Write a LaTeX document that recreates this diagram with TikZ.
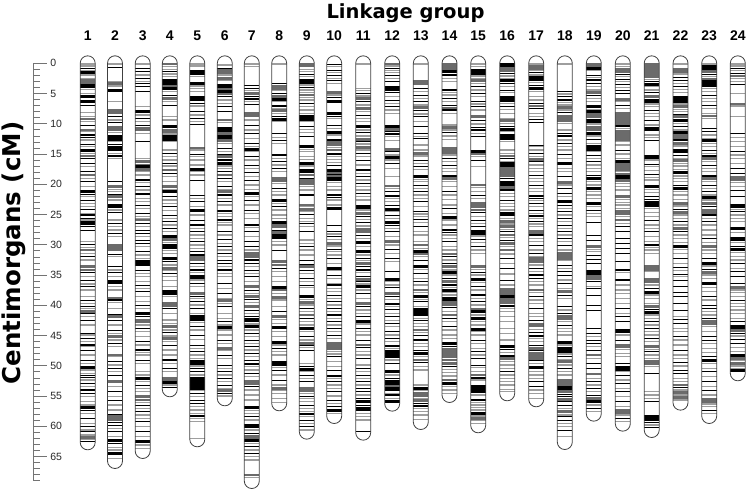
\documentclass[tikz,border=0pt]{standalone}
\usepackage{fontspec}
\setmainfont{Liberation Sans}
\newfontfamily\dejavu{DejaVu Sans}
\tikzset{
  bandk/.style={line width=0.9pt, black},
  bandK/.style={line width=2.6pt, black},
  bandg/.style={line width=1.2pt, black!38},
  bandG/.style={line width=2.8pt, black!58},
  chrout/.style={line width=0.8pt, black!75},
  axisline/.style={line width=0.8pt, black!55},
  ticklabel/.style={anchor=west, inner sep=0pt, text=black!85, font=\fontsize{10.5}{11}\selectfont},
  grouplabel/.style={anchor=base, inner sep=0pt, font=\fontsize{14}{15}\selectfont\bfseries},
}
\newcommand\drawchrom[3]{%
  \foreach \zz/\ty in {#3}{%
    \edef\bandcmd{\noexpand\draw[band\ty]}%
    \bandcmd (#1-7.5,50+\zz/3) -- (#1+7.5,50+\zz/3);
  }%
  \draw[chrout] (#1-7.5,63.3) arc[start angle=180,end angle=0,radius=7.5pt]
    -- (#1+7.5,50+#2/3) arc[start angle=0,end angle=-180,radius=7.5pt] -- cycle;
}
\begin{document}
\begin{tikzpicture}[x=1pt,y=-1pt]
\useasboundingbox (0,0) rectangle (749,490);
% titles
\node[anchor=base, inner sep=0pt, font=\dejavu\bfseries\fontsize{19.5}{20}\selectfont] (title) at (405.5,18.5) {Linkage group};
\node[rotate=90, inner sep=0pt, font=\dejavu\bfseries\fontsize{24.5}{25}\selectfont] (ylab) at (14,253) {Centimorgans (cM)};
% axis
\draw[axisline] (33,63.3) coordinate (axtop) -- (33,480.8) coordinate (axbot);
\foreach \i in {0,...,69}{\draw[axisline] (33,63.3+\i*6.05) -- ++(7,0);}
\foreach \i in {0,5,...,65}{\draw[axisline] (33,63.3+\i*6.05) -- ++(14,0) node[ticklabel, xshift=3pt] (tl\i) {\i};}
% group labels
\foreach \n/\x in {1/87.7,2/115,3/142.7,4/169.8,5/197.3,6/224.8,7/251.8,8/279.2,9/306.8,10/334.2,11/363.2,12/392.2,13/420.8,14/449.5,15/478.2,16/507.2,17/536.2,18/564.8,19/593.8,20/622.8,21/651.7,22/680.5,23/709.2,24/737.8}{\node[grouplabel] (g\n) at (\x,40) {\n};}
% chromosomes
\drawchrom{87.7}{1177}{42/g,48/g,55/k,62/g,68/K,75/g,85/g,92/G,98/G,104/k,110/K,118/g,130/g,140/K,155/K,165/k,188/g,200/g,207/G,215/g,225/k,240/G,245/g,255/K,263/k,270/g,282/k,290/g,302/K,310/g,318/G,325/k,340/k,350/g,365/k,375/G,385/g,395/k,410/g,425/K,432/k,440/g,450/k,460/g,470/g,478/k,490/g,495/K,505/k,510/g,515/k,520/K,530/k,540/k,575/g,582/k,592/g,600/G,610/g,620/k,630/g,645/k,650/G,660/G,668/k,680/g,690/k,702/g,710/k,720/g,740/g,750/k,760/g,768/k,775/g,785/G,790/k,800/g,810/k,825/g,850/k,855/g,865/k,875/g,885/K,890/g,900/k,915/g,930/k,940/g,952/K,960/g,970/g,975/k,983/k,990/g,1000/k,1010/g,1020/K,1030/k,1040/g,1055/g,1065/g,1073/K,1080/k,1090/g,1105/k,1120/g,1130/k,1140/g,1145/k,1155/g,1162/G,1168/g,1175/k}
\drawchrom{115}{1233}{42/g,52/k,95/g,100/G,108/g,122/K,155/g,180/G,188/G,200/k,210/g,218/k,232/G,240/G,248/g,260/K,268/K,275/g,283/k,293/K,300/K,310/g,318/K,325/g,395/k,410/G,418/g,425/g,435/K,440/G,450/g,465/K,470/K,480/g,487/k,510/g,520/k,530/g,540/g,550/k,560/g,585/G,590/G,595/G,600/G,612/k,620/g,650/k,660/g,668/k,680/g,695/K,700/k,710/g,720/g,745/G,750/K,758/g,775/g,795/K,800/G,810/k,825/g,840/k,850/g,860/G,870/g,880/k,890/g,915/G,920/g,935/k,945/g,955/k,965/g,975/k,995/G,1010/g,1025/k,1040/g,1050/k,1065/g,1080/g,1095/K,1100/G,1105/G,1110/G,1118/k,1125/k,1135/g,1145/k,1160/g,1172/K,1180/k,1192/g,1200/g,1210/K,1225/g}
\drawchrom{142.7}{1203}{42/g,55/k,65/k,75/g,85/k,95/g,100/k,110/k,125/k,170/g,185/K,195/g,205/k,215/g,225/k,235/G,240/G,250/g,275/k,325/g,335/G,345/G,350/K,358/G,365/g,375/g,390/K,398/g,410/k,420/g,432/K,445/g,455/g,465/k,475/g,490/k,500/g,505/g,510/G,520/k,530/g,540/k,550/k,560/g,570/k,580/k,590/g,605/k,615/g,625/g,635/K,640/K,645/K,660/k,670/g,680/g,695/g,705/k,715/g,725/k,740/g,755/g,765/k,775/g,790/K,800/k,810/G,815/G,825/g,835/k,845/g,860/g,875/k,885/g,900/K,908/g,915/g,930/k,940/g,965/g,975/g,985/K,995/g,1005/k,1015/g,1025/g,1035/k,1040/G,1050/G,1058/g,1065/k,1075/g,1085/k,1095/g,1105/g,1115/k,1130/g,1145/k,1160/g,1175/K,1185/g,1195/g}
\drawchrom{169.8}{1018}{42/G,50/g,58/g,65/k,72/g,80/g,92/K,100/K,108/G,115/K,125/g,135/k,145/G,155/g,165/k,200/g,210/g,230/K,240/G,245/G,252/g,260/K,268/K,275/g,300/g,310/k,320/g,330/g,340/k,348/g,360/G,370/k,380/g,395/g,410/G,418/g,425/K,440/k,450/g,460/g,470/k,482/g,495/k,505/g,515/k,525/g,535/k,545/g,560/K,568/G,578/g,585/K,593/K,602/g,610/g,625/K,635/k,645/g,655/G,662/g,670/k,680/g,692/g,710/g,725/K,730/K,740/g,760/G,768/G,775/k,790/g,810/g,820/g,830/G,840/g,848/k,858/g,865/G,875/g,885/k,900/g,915/g,930/K,940/g,955/k,965/g,985/G,990/G,998/K,1005/g,1012/k}
\drawchrom{197.3}{1168}{42/g,48/g,65/K,72/K,80/g,100/K,108/g,115/g,125/g,138/k,145/K,152/k,160/k,168/g,185/k,195/g,205/k,215/g,222/k,295/G,300/g,312/k,320/g,330/g,345/g,358/K,365/g,375/g,390/k,435/k,445/g,455/k,470/g,482/K,495/g,510/k,525/K,535/g,545/k,555/g,565/g,575/k,585/g,595/g,605/k,615/K,622/G,630/G,640/k,650/g,660/K,668/g,675/k,682/K,690/g,700/k,710/g,730/G,738/k,745/g,755/k,765/g,775/k,790/g,800/K,805/K,810/K,818/g,828/k,840/g,855/k,868/g,885/k,895/g,905/k,915/g,925/g,935/K,940/K,948/g,955/k,965/k,975/g,985/K,990/K,995/K,1000/K,1005/K,1010/K,1015/K,1022/g,1030/k,1040/g,1050/k,1060/k,1070/g,1080/g,1090/g,1098/K,1105/g,1115/g,1165/g}
\drawchrom{224.8}{1045}{45/g,55/k,62/G,68/G,75/g,85/G,92/g,105/K,110/K,118/G,125/K,132/G,140/k,150/g,160/g,170/k,185/k,210/G,218/g,235/K,242/K,250/G,258/K,265/K,272/G,280/g,295/k,305/g,315/K,320/G,330/K,340/K,348/g,355/g,365/k,375/G,385/k,395/g,410/k,418/g,425/G,435/K,445/g,455/k,465/g,483/K,490/g,500/g,510/K,518/g,525/g,545/k,555/g,568/k,580/g,590/k,600/g,610/k,620/g,630/k,640/k,650/g,660/K,670/g,680/g,700/k,715/g,730/k,745/g,752/G,760/g,770/k,790/g,805/g,815/k,825/g,832/K,840/g,855/g,870/k,880/g,895/G,902/g,915/k,925/g,945/k,955/g,965/k,975/g,985/k,995/g,1005/k,1015/g,1022/G,1030/k,1038/g}
\drawchrom{251.8}{1293}{42/g,50/g,105/k,115/k,122/g,130/G,140/k,147/K,155/g,163/k,190/G,197/G,210/g,225/k,240/g,250/k,265/g,280/k,290/g,298/K,305/g,318/k,330/g,345/k,355/g,368/k,380/g,390/k,405/g,418/g,430/K,440/g,450/k,465/g,480/k,490/g,505/g,525/K,532/g,545/k,560/g,575/k,590/k,600/g,610/G,620/G,630/K,640/k,650/g,660/k,670/g,680/k,695/g,710/G,720/k,730/g,740/G,748/k,758/g,770/G,780/k,790/g,800/k,808/K,815/k,822/g,830/K,840/g,850/k,860/g,870/k,880/g,890/k,900/g,910/k,920/g,930/k,942/K,950/g,960/g,970/k,980/g,995/G,1000/G,1010/k,1020/g,1035/g,1050/g,1072/K,1082/g,1090/g,1100/k,1110/g,1122/k,1130/K,1140/g,1150/k,1158/G,1165/G,1172/K,1180/g,1190/k,1200/g,1210/k,1220/g,1230/g,1275/G,1283/g}
\drawchrom{279.2}{1060}{42/g,100/k,108/G,115/G,122/g,130/k,140/G,148/K,155/g,168/K,175/g,182/G,190/g,200/k,208/K,215/g,250/k,262/g,270/k,280/g,315/K,325/g,335/k,345/g,355/k,365/g,385/G,393/G,400/g,415/k,425/g,435/g,452/K,460/g,470/k,480/g,495/g,505/g,518/K,525/G,530/G,540/k,548/G,555/K,562/K,575/g,585/g,600/k,635/G,645/G,655/k,665/g,680/g,695/g,712/K,720/G,730/g,742/G,750/g,770/g,785/k,800/G,808/g,820/g,833/K,845/g,860/g,878/K,885/g,895/k,905/g,915/g,938/K,945/K,952/g,960/k,975/g,990/k,1005/g,1015/G,1022/g,1030/g,1045/g,1058/g}
\drawchrom{306.8}{1145}{42/G,48/G,58/g,65/g,72/k,80/g,90/K,98/K,105/g,112/k,120/g,128/g,135/G,142/g,150/g,160/k,170/g,180/g,190/g,200/K,208/K,215/g,230/k,238/g,248/g,258/k,290/K,298/g,305/g,320/g,328/g,340/K,348/g,358/k,365/K,375/G,385/k,392/G,400/G,410/g,420/g,435/K,465/G,470/g,478/G,485/g,492/k,505/g,515/g,520/k,530/g,545/k,570/g,580/g,590/k,600/g,615/g,630/k,645/K,650/G,660/k,670/g,685/k,695/g,705/k,712/g,740/K,748/g,758/G,765/g,775/k,785/g,795/G,805/k,815/g,825/g,835/K,845/g,860/k,870/g,880/G,885/k,893/g,900/k,940/g,950/k,958/K,965/g,975/k,985/g,995/k,1015/G,1022/G,1030/g,1038/k,1045/g,1055/g,1065/k,1075/g,1085/g,1092/K,1100/g,1110/k,1120/g,1130/k,1140/g}
\drawchrom{334.2}{1098}{42/k,50/g,60/k,68/g,75/k,85/g,92/k,100/g,128/G,135/g,142/k,155/K,190/K,198/k,205/g,225/k,235/g,248/K,255/g,270/K,278/G,285/G,292/g,300/G,312/K,320/g,328/g,338/g,345/k,360/K,365/K,370/G,375/K,380/G,385/K,390/K,398/g,410/g,420/g,435/K,442/k,450/g,465/g,475/K,525/k,545/k,552/g,560/k,568/g,580/G,588/g,598/k,605/g,615/g,625/k,640/g,655/K,662/g,675/k,685/g,700/g,705/K,715/g,725/g,735/k,745/g,755/k,765/g,775/k,785/g,795/K,805/g,815/k,825/g,835/k,845/g,855/k,865/g,880/G,888/G,895/G,905/g,912/g,920/k,935/g,950/g,960/k,978/K,985/g,995/k,1005/g,1015/g,1025/k,1038/g,1050/k,1060/g,1070/k,1082/K,1090/g}
\drawchrom{363.2}{1148}{42/g,115/g,122/g,130/k,138/g,145/G,155/k,165/g,175/G,185/g,195/k,205/g,215/g,230/K,240/g,248/k,258/g,268/G,275/k,282/g,292/G,300/g,310/k,320/g,330/k,345/g,360/K,370/g,380/k,390/g,400/k,410/g,420/g,430/k,440/g,450/g,468/K,472/K,480/g,490/G,498/k,508/g,518/k,528/g,538/G,545/G,555/k,565/g,578/K,590/g,605/K,615/g,625/k,632/g,640/G,648/k,660/K,668/g,678/k,688/G,695/k,702/g,710/K,720/g,730/k,745/g,760/G,768/k,780/g,790/g,800/k,815/K,822/g,835/k,845/g,855/g,870/k,885/G,892/k,905/g,915/g,925/k,945/g,955/k,965/g,975/k,985/g,995/k,1005/g,1015/k,1025/k,1035/g,1045/k,1055/K,1065/k,1075/K,1082/k,1090/g,1100/g,1110/g,1145/k}
\drawchrom{392.2}{1061}{42/G,48/g,55/k,62/g,68/g,75/k,85/g,95/k,112/K,118/K,128/k,140/g,150/k,160/g,170/k,180/g,190/g,230/K,238/G,245/k,252/K,260/g,272/g,298/G,305/k,315/g,322/K,330/g,340/k,355/g,380/g,408/G,415/g,425/k,438/K,445/g,455/g,465/k,478/K,485/g,495/k,505/g,518/K,525/k,535/g,545/k,560/g,575/G,585/g,598/k,610/g,625/k,635/g,665/k,688/K,695/g,705/g,712/k,730/G,738/k,748/g,762/K,770/g,778/k,790/g,800/k,812/g,820/k,830/g,845/k,855/g,865/k,875/g,888/K,895/g,905/K,912/K,920/K,930/g,940/k,965/K,975/g,985/k,995/K,1000/K,1008/G,1015/K,1020/K,1030/g,1035/K,1045/g,1055/K}
\drawchrom{420.8}{1116}{42/g,95/G,102/G,115/k,125/g,135/k,145/g,155/k,165/g,172/G,180/k,192/g,200/k,215/g,230/k,250/k,260/g,265/k,285/g,300/g,310/G,318/g,330/k,340/g,350/k,358/g,380/K,388/g,395/g,405/k,415/g,425/k,435/g,445/g,455/k,470/g,485/k,492/g,500/g,508/k,518/g,530/k,545/g,555/g,575/g,585/G,595/g,605/K,612/G,620/g,630/k,650/K,658/g,670/k,685/g,695/k,705/g,720/G,728/g,740/K,748/g,755/k,770/g,778/K,785/K,790/K,795/K,805/g,812/k,820/g,830/g,840/G,848/g,855/k,870/K,880/g,890/g,900/k,910/K,920/g,930/G,938/k,950/g,960/g,1005/g,1015/K,1022/g,1030/G,1038/G,1045/g,1052/G,1060/k,1068/K,1075/g,1085/g,1095/g,1108/g}
\drawchrom{449.5}{1035}{42/G,50/G,58/G,65/K,75/K,85/g,95/g,120/K,128/g,135/g,145/k,155/g,165/k,175/G,180/K,190/g,225/g,232/G,240/g,248/k,258/g,268/g,295/G,300/G,308/G,315/g,325/k,335/g,345/k,355/g,365/g,378/K,385/G,395/g,410/g,425/k,435/g,448/g,465/g,475/k,490/g,503/K,510/g,525/g,540/K,548/k,555/g,565/g,575/k,590/g,600/g,612/G,620/k,630/g,640/k,650/G,660/g,668/K,675/g,685/k,695/G,705/K,712/g,722/K,728/g,735/g,745/K,750/K,758/G,765/G,772/k,785/g,795/G,805/k,815/g,830/k,840/g,855/g,865/g,880/K,888/k,898/G,905/G,912/G,920/G,930/G,940/G,948/k,958/g,968/g,978/g,990/G,1000/K,1010/g,1020/g,1030/g}
\drawchrom{478.2}{1126}{42/g,50/g,58/k,65/K,72/K,78/g,85/g,92/G,100/g,108/k,120/g,130/k,140/g,155/k,162/g,170/k,180/g,200/G,210/k,222/g,232/k,240/K,250/g,260/k,305/K,312/G,320/g,330/k,350/g,405/G,412/g,425/g,435/k,445/g,460/G,470/G,480/G,488/k,500/g,510/k,520/g,530/k,545/K,550/K,558/g,568/k,578/g,590/k,600/g,610/g,650/G,658/g,668/k,675/g,688/K,698/g,710/k,720/g,735/K,745/g,755/k,765/g,778/G,785/K,795/g,805/K,815/g,825/g,838/K,845/g,855/g,870/k,880/g,895/g,905/k,915/g,925/k,945/k,952/g,965/g,975/G,985/K,990/g,1010/K,1015/K,1020/K,1025/K,1035/g,1050/K,1058/g,1065/g,1072/g,1080/g,1090/K,1098/g,1105/G,1112/g,1120/g}
\drawchrom{507.2}{1030}{42/K,48/K,55/G,62/G,70/k,78/g,85/g,92/K,100/k,110/g,120/k,128/g,138/k,145/K,152/K,160/g,168/k,178/g,190/g,205/g,212/G,220/g,228/k,238/K,245/g,252/k,258/K,265/K,275/g,300/g,310/g,318/G,325/k,335/g,340/K,350/K,355/G,362/G,370/G,378/G,385/k,398/K,405/K,412/G,420/K,430/g,440/g,450/k,460/g,470/g,480/g,490/K,495/K,505/g,515/G,522/g,530/G,538/g,545/k,555/G,562/g,570/k,580/G,590/g,600/G,612/g,625/k,640/g,655/k,672/g,690/k,705/g,718/G,725/G,732/G,740/K,748/G,758/G,768/K,775/g,785/g,800/g,815/g,835/g,850/g,870/g,890/K,898/k,908/g,918/K,925/G,935/g,945/g,955/g,965/k,975/g,985/g,995/g,1005/g,1018/g,1025/g}
\drawchrom{536.2}{1048}{42/g,48/G,55/G,62/g,68/k,75/g,82/K,88/K,98/g,105/k,115/K,125/g,140/g,150/g,160/k,168/G,175/k,190/g,200/g,208/k,218/k,285/k,290/g,300/g,310/k,320/g,328/G,335/k,345/g,355/g,365/g,375/k,385/g,395/g,405/k,415/g,425/g,438/K,445/k,452/g,460/k,470/g,480/k,490/g,498/K,505/g,515/k,522/g,530/g,545/G,550/G,555/K,565/g,575/g,585/k,600/g,610/k,620/g,625/G,635/G,645/g,655/k,665/g,675/K,685/k,695/g,705/g,720/G,728/g,740/k,750/g,760/g,775/k,790/g,800/g,812/k,822/G,828/G,838/g,848/k,858/K,865/g,875/g,885/k,895/G,902/k,910/G,918/G,925/G,932/k,940/g,952/K,965/g,975/g,985/g,995/k,1010/k,1020/g,1030/g,1045/g}
\drawchrom{564.8}{1176}{42/g,125/k,132/g,140/k,150/K,158/g,165/g,172/G,180/g,188/k,198/G,205/G,212/G,220/g,240/g,250/k,258/K,270/g,280/k,290/g,300/g,312/k,325/g,340/K,355/g,365/g,380/k,398/G,405/g,415/k,430/k,440/g,455/K,465/k,475/g,485/k,495/g,505/k,515/g,525/k,535/g,545/k,555/g,565/k,575/g,585/k,600/g,610/G,618/G,625/G,632/g,645/k,655/g,665/k,675/k,690/g,700/k,715/g,725/G,735/k,745/g,768/k,780/g,790/k,798/G,805/G,815/g,825/k,835/g,845/g,855/g,878/K,885/g,895/K,905/K,912/g,920/k,928/g,935/G,945/g,955/k,965/g,975/g,990/G,998/G,1005/G,1012/K,1018/K,1025/G,1032/k,1040/k,1048/G,1055/k,1065/k,1075/g,1085/G,1095/g,1100/k,1110/k,1120/g,1130/g,1140/k,1160/g}
\drawchrom{593.8}{1091}{42/G,48/G,55/K,62/g,75/k,82/g,90/K,100/k,110/g,120/g,128/G,135/k,145/g,155/g,170/K,178/g,185/K,192/G,200/G,208/k,215/K,222/g,232/G,240/G,250/K,258/g,268/k,280/g,290/K,298/K,305/g,315/k,325/g,335/k,345/g,355/g,365/g,375/k,385/K,395/g,405/g,415/K,425/g,435/g,445/g,460/K,470/g,480/k,490/g,500/g,518/k,555/k,570/k,590/G,598/g,605/g,615/k,628/k,640/k,665/K,670/K,678/G,685/G,695/k,710/g,715/k,735/k,765/k,780/k,835/k,850/k,860/g,870/k,880/k,890/g,900/k,915/G,925/g,940/k,955/k,972/G,985/g,995/k,1005/g,1015/k,1025/g,1035/k,1045/G,1055/K,1065/g,1075/k,1085/g}
\drawchrom{622.8}{1121}{42/g,50/g,58/G,65/G,72/k,80/g,88/k,95/g,102/k,112/g,120/k,130/k,148/G,155/g,165/k,175/g,190/G,198/G,205/G,212/G,220/G,228/K,235/g,245/G,252/G,260/G,268/G,275/g,285/g,302/k,312/g,325/g,335/K,342/G,350/G,358/G,365/g,372/G,380/K,385/K,392/G,400/g,410/g,420/g,440/G,448/g,458/g,465/g,475/g,485/G,492/G,500/g,510/G,520/g,530/k,545/k,565/k,580/k,595/k,610/k,635/k,660/K,668/g,690/K,705/g,720/g,730/g,745/g,760/g,775/k,790/g,800/k,815/k,840/K,845/K,855/g,870/k,885/G,890/G,898/g,910/g,920/g,940/k,952/K,958/K,965/g,975/k,990/g,1000/k,1015/g,1025/k,1040/g,1055/k,1070/g,1080/G,1088/G,1095/g,1105/k,1115/g}
\drawchrom{651.7}{1140}{42/G,50/G,58/G,65/G,72/G,80/G,88/g,95/k,103/K,110/g,120/g,128/k,140/G,150/K,155/K,162/g,170/g,180/k,190/g,200/g,210/k,225/g,235/K,242/k,255/g,262/g,272/k,318/K,322/K,330/g,342/k,350/g,362/g,372/k,382/g,390/g,410/K,418/g,428/g,438/k,448/k,458/K,462/K,468/K,475/g,488/g,500/g,512/k,525/g,535/g,545/k,560/g,575/g,585/K,592/g,600/g,610/g,650/G,658/G,665/g,688/G,695/G,705/g,715/k,728/K,735/g,745/g,760/g,770/G,778/k,788/K,795/g,805/g,815/k,825/g,835/k,845/g,855/g,865/k,875/g,890/G,898/g,905/k,915/g,925/g,935/G,942/G,950/g,970/k,1025/g,1035/g,1045/g,1055/k,1095/k,1100/K,1108/K,1118/k,1125/g,1132/k}
\drawchrom{680.5}{1058}{42/g,58/G,65/G,72/g,82/k,90/k,100/g,108/k,118/g,128/g,142/K,148/K,155/K,162/g,170/G,178/g,185/g,192/k,200/G,212/K,220/g,228/k,240/g,248/K,255/G,262/G,270/K,280/G,288/g,298/k,305/K,315/k,325/g,332/G,340/g,348/g,358/g,368/K,378/g,385/g,395/g,405/k,415/K,425/g,435/g,448/g,460/G,468/g,478/k,488/G,495/g,505/g,515/k,525/g,535/G,545/k,555/g,565/g,578/g,590/K,598/g,610/g,625/k,640/g,652/k,662/g,672/k,680/g,690/k,710/k,728/k,740/k,760/k,780/k,800/g,808/k,820/k,835/g,845/g,858/k,870/g,885/g,900/k,915/g,925/g,938/k,948/g,960/k,970/k,985/g,995/g,1005/G,1012/k,1020/g,1028/G,1035/g,1042/G,1050/g}
\drawchrom{709.2}{1098}{42/g,50/K,58/K,65/G,72/k,80/g,88/G,95/K,100/K,108/K,115/g,125/g,135/k,145/g,155/g,165/k,175/g,190/g,198/G,205/g,235/k,245/k,255/g,265/g,272/K,280/g,290/g,300/k,310/g,318/K,325/G,335/g,345/k,355/g,365/g,380/K,385/G,395/g,405/k,415/g,425/k,435/g,442/K,450/g,460/G,470/k,480/G,488/G,495/K,505/g,515/k,525/g,540/g,555/g,565/k,578/g,590/G,600/g,610/g,625/k,640/K,648/g,658/k,668/G,675/g,685/g,700/K,712/g,725/g,738/k,750/g,765/k,775/k,785/g,795/g,805/k,815/G,822/G,830/g,845/g,858/k,870/k,880/g,895/g,908/g,920/k,932/K,940/g,955/g,965/k,980/g,995/k,1010/g,1020/k,1035/g,1048/G,1055/G,1062/g,1070/g,1080/k,1090/g}
\drawchrom{737.8}{970}{42/g,48/g,55/k,62/g,70/k,78/G,85/g,95/g,102/k,130/g,162/G,168/g,200/g,250/k,262/g,275/g,290/g,305/k,315/g,325/g,340/g,355/k,370/k,382/G,390/G,398/g,410/g,420/k,440/k,465/K,470/K,478/g,485/k,495/g,505/g,515/g,535/K,548/g,565/K,570/K,578/g,590/k,598/K,608/g,620/g,630/g,640/k,655/g,665/k,680/k,700/k,712/G,720/g,728/g,740/g,750/k,760/g,770/g,780/g,790/g,805/g,815/k,830/K,835/K,842/G,850/k,858/g,868/k,880/k,892/g,905/g,915/K,920/K,925/G,932/g,940/G,948/g,955/g,962/K}
\end{tikzpicture}
\end{document}
